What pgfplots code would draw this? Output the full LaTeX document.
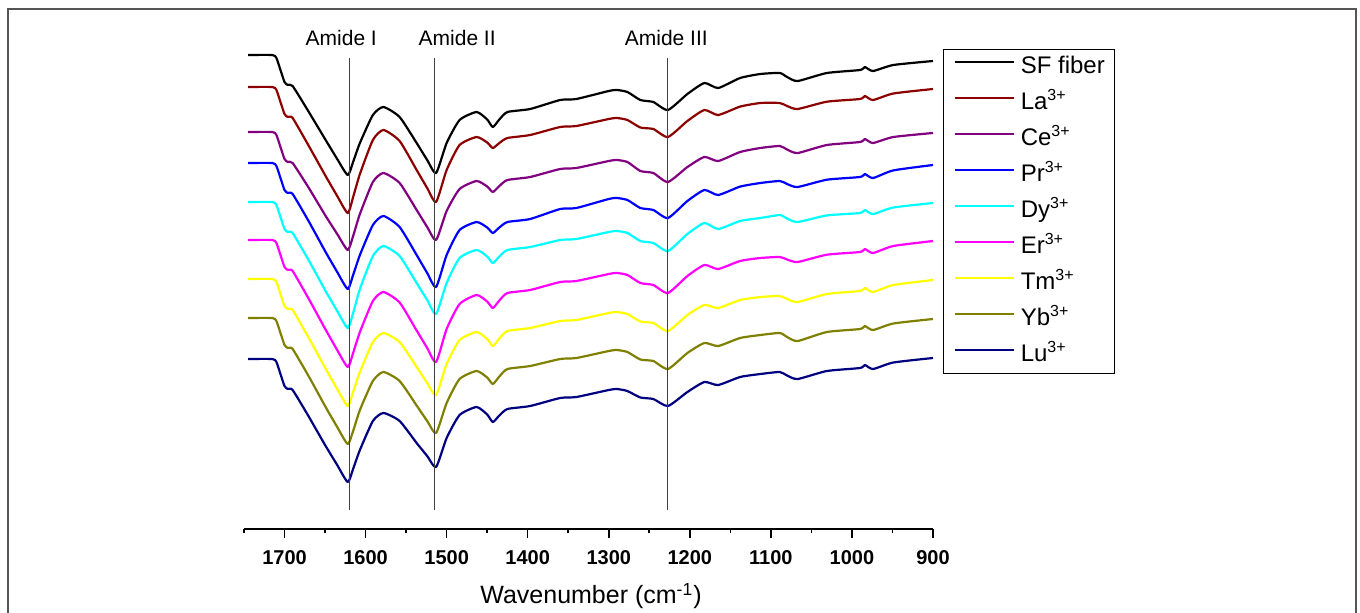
\documentclass[border=0pt]{standalone}
\usepackage{fontspec}
\setmainfont{Liberation Sans}
\usepackage{pgfplots}
\usepackage{pgfplotstable}
\pgfplotsset{compat=1.18}

\definecolor{laRed}{RGB}{140,0,0}
\definecolor{cePurple}{RGB}{128,0,128}
\definecolor{prBlue}{RGB}{0,0,255}
\definecolor{dyCyan}{RGB}{0,255,255}
\definecolor{erMagenta}{RGB}{255,0,255}
\definecolor{tmYellow}{RGB}{255,255,0}
\definecolor{ybOlive}{RGB}{128,128,0}
\definecolor{luNavy}{RGB}{0,0,128}
\definecolor{frameGray}{RGB}{85,85,85}

% offset spectra, y in picture rows (down = larger)
\pgfplotstableread{
wn   sf    la    ce    pr    dy    er    tm    yb    lu
1745 55    87    132   163   202   240   279   318   359
1715 55    87    132   163   202   240   279   318   359
1710 58    90    135   166   205   243   282   321   362
1705 70    102   147   178   217   255   294   333   374
1700 82    114   159   190   229   267   306   345   386
1696 85    117   162   193   232   270   309   348   389
1690 86    118   163   194   233   271   310   349   390
1670 112   146   188   221.5 260.5 299   338   376.5 416.7
1650 139   175   215   251   290   328.6 367.6 406   445
1635 159   196   234   272   311   350   389   427   465
1622 175   213   250   289   328   367   406   444   482
1615 161   196   235   274   312   352   391   430   468
1607 143   174   214   255   289   332   372   410   450
1591 115   140   182   225   256   301   342   381   421
1578 107   130   173   216   246   292   333   372   413
1558 117   141   183   227   256   302.5 342   381   421
1537 143   170   210   255   283   330.5 367   405.5 443
1524 160   188   227   273   300   348   383   421   456
1513 173   202   240   287   314   362   395   433   467
1500 143   170   211   255   283   329   364   403   438
1484 120   145   189   230   258   304   340   379   415
1463 112   137   181   222   250   295   332   371   407
1450 119.5 142.5 186.5 227.5 256.5 301.5 339   377.5 414.5
1443 127   148   192   233   263   308   346   384   422
1435 119.5 143   186   227.5 256.5 300.5 338.5 376.5 415.5
1425 112   138   180   222   250   293   331   369   409
1397 109   135   177   219   247   290   328   366   406
1360 100   127   169   209   240   282   321   359   398
1340 99    126   168   208   239   281   320   358   397
1300 91    119   161   199   232   274   313   351   390
1290 90    118   160   198   231   273   312   350   389
1277 92    120   162   200   233   275   314   352   391
1261 100   127.5 171   208   241   283   321.5 359.5 397.5
1245 102   129   173   210   243   285   323   361   399
1227 110   137   182   218   251   293   331   369   406
1203 94    121   167   201   234   276   315   353   392
1182 83    110   157   190   223   265   305   343   382
1165 88    115   161   195   229   269   308   346   385
1138 78    106.6 152   186.6 221   261   300   338   377
1113 74    103   148   183   218   258   297   335   374
1089 73    103   146   181   215   257   296   333   372
1080 77    106   149.5 184   218.5 259.5 299   337   375.5
1067 81    109   153   187   222   262   302   341   379
1031 73    101.7 145   179.7 215.4 254.7 294   332   371
990  70    99    142   177   213   252   291   329   368
984  67    96    139   174   210   249   288   326   365
974  71    100   143   178   214   253   292   330   369
949  65    93.5  137   170.4 207.5 246   285   323.5 362.5
900  61    89    133   165   203   241   280   319   358
}\spectra

\begin{document}
\begin{tikzpicture}
\begin{axis}[
    at={(122pt,41.5pt)}, anchor=south west,
    scale only axis,
    width=344.5pt, height=260pt,
    xmin=900, xmax=1750,
    ymin=9, ymax=529,
    x dir=reverse, y dir=reverse,
    axis x line*=bottom, axis y line=none,
    x axis line style={-, line width=1pt},
    xtick={900,1000,...,1700},
    minor xtick={950,1050,...,1750},
    tick align=outside,
    major tick length=4.5pt, minor tick length=2.2pt,
    every tick/.style={black, line width=0.8pt},
    xticklabel style={font=\fontsize{10}{11}\selectfont\bfseries, yshift=-2.5pt},
    /pgf/number format/1000 sep={},
    /pgf/number format/assume math mode=true,
    clip=false,
    legend cell align=left,
    legend style={at={(1.0145,0.923)}, anchor=north west,
        draw=black, line width=0.6pt,
        font=\fontsize{12}{14}\selectfont,
        inner xsep=5pt, inner ysep=3pt, row sep=6pt,
        nodes={inner sep=0pt, text height=9pt, text depth=3pt},
        /tikz/every odd column/.append style={column sep=3pt}},
    legend image code/.code={\draw[#1, sharp plot] (0pt,3pt) -- (29.5pt,3pt);},
    every axis plot/.append style={line width=1.1pt, line join=round, smooth, tension=0.35},
]
\addplot[black]     table[x=wn, y=sf] {\spectra}; \addlegendentry{SF fiber}
\addplot[laRed]     table[x=wn, y=la] {\spectra}; \addlegendentry{La\textsuperscript{3+}}
\addplot[cePurple]  table[x=wn, y=ce] {\spectra}; \addlegendentry{Ce\textsuperscript{3+}}
\addplot[prBlue]    table[x=wn, y=pr] {\spectra}; \addlegendentry{Pr\textsuperscript{3+}}
\addplot[dyCyan]    table[x=wn, y=dy] {\spectra}; \addlegendentry{Dy\textsuperscript{3+}}
\addplot[erMagenta] table[x=wn, y=er] {\spectra}; \addlegendentry{Er\textsuperscript{3+}}
\addplot[tmYellow]  table[x=wn, y=tm] {\spectra}; \addlegendentry{Tm\textsuperscript{3+}}
\addplot[ybOlive]   table[x=wn, y=yb] {\spectra}; \addlegendentry{Yb\textsuperscript{3+}}
\addplot[luNavy]    table[x=wn, y=lu] {\spectra}; \addlegendentry{Lu\textsuperscript{3+}}

% amide band markers
\addplot[forget plot, sharp plot, black!75, line width=0.6pt] coordinates {(1620,58) (1620,510)};
\addplot[forget plot, sharp plot, black!75, line width=0.6pt] coordinates {(1515,58) (1515,510)};
\addplot[forget plot, sharp plot, black!75, line width=0.6pt] coordinates {(1228,58) (1228,510)};
\node[font=\fontsize{10.5}{12}\selectfont] at (axis cs:1630,38) {Amide I};
\node[font=\fontsize{10.5}{12}\selectfont] at (axis cs:1487,38) {Amide II};
\node[font=\fontsize{10.5}{12}\selectfont] at (axis cs:1229,38) {Amide III};
\end{axis}
\node[font=\fontsize{12.5}{14}\selectfont] at (295.5pt,8pt) {Wavenumber (cm\textsuperscript{-1})};
\draw[frameGray, line width=1pt] (4pt,-2pt) -- (4pt,301.5pt) -- (678pt,301.5pt) -- (678pt,-2pt);
\pgfresetboundingbox
\path[use as bounding box] (0pt,0pt) rectangle (680pt,306pt);
\end{tikzpicture}
\end{document}
